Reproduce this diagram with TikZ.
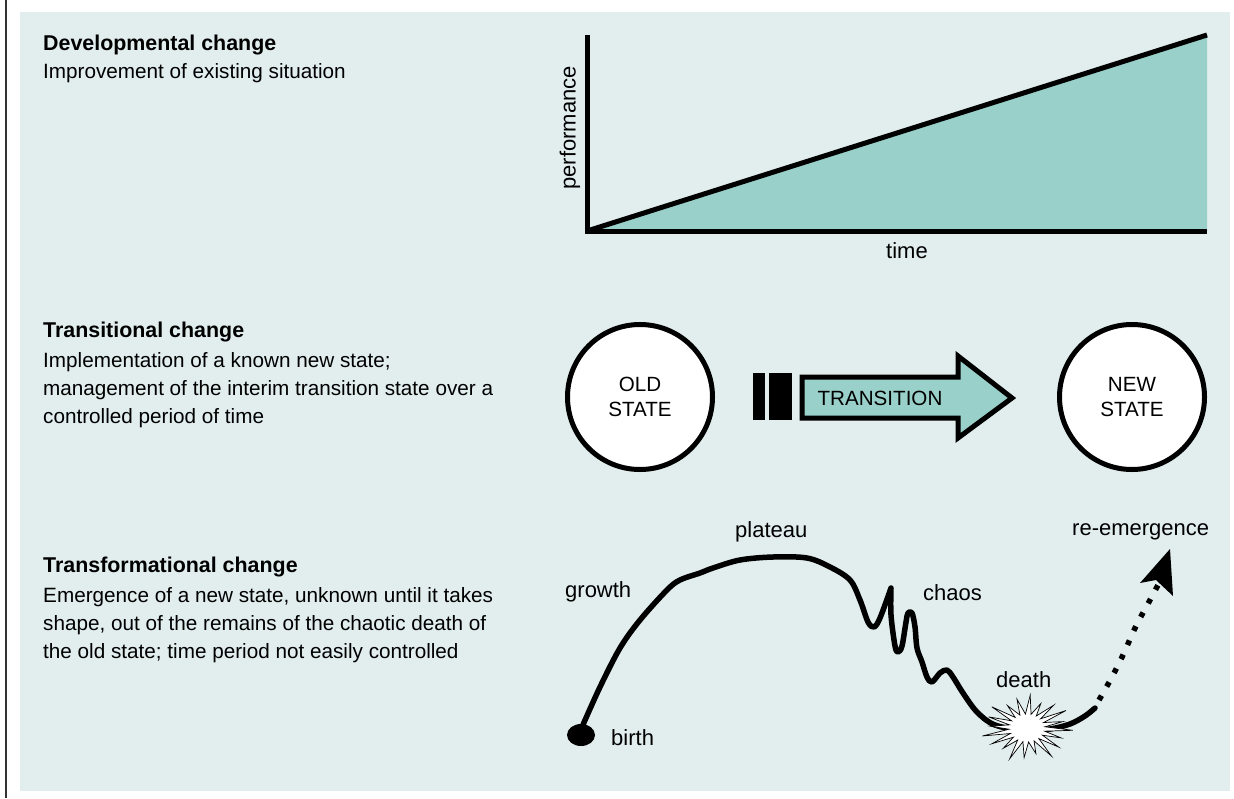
\documentclass[tikz,border=0pt]{standalone}
\usepackage{fontspec}
\setmainfont{Liberation Sans}
\definecolor{bgc}{HTML}{E1EEED}
\definecolor{tealfill}{HTML}{99D1CA}
\begin{document}
\begin{tikzpicture}[x=1pt,y=-1pt,
  titlefont/.style={font=\bfseries\fontsize{21.4}{26}\selectfont, anchor=base west, inner sep=0pt},
  bodyfont/.style={font=\fontsize{20.7}{26}\selectfont, anchor=base west, inner sep=0pt},
  lbl/.style={font=\fontsize{22}{26}\selectfont, anchor=base west, inner sep=0pt},
  axisline/.style={line width=5pt, line cap=butt, line join=miter},
  statecircle/.style={circle, draw=black, line width=5pt, fill=white, minimum size=145pt, inner sep=0pt, align=center, font=\fontsize{20.6}{24.5}\selectfont},
  arrowshape/.style={draw=black, fill=tealfill, line width=5pt, line join=miter},
  lifecurve/.style={line width=5.5pt, line cap=round, line join=round},
  dotted-path/.style={line width=5.5pt, line cap=butt, dash pattern=on 5pt off 10.5pt},
  starfill/.style={fill=white, draw=black, line width=0.7pt, line join=miter}
]
\useasboundingbox (0,0) rectangle (1234,798);
\fill[white] (0,0) rectangle (1234,798);
\draw[line width=1.5pt, black!80] (6,0) -- (6,798);
\fill[bgc] (20,12) rectangle (1230,791);

% ---------- left texts ----------
\node[titlefont] (devT) at (43,50) {Developmental change};
\node[bodyfont] (devB) at (43,78) {Improvement of existing situation};

\node[titlefont] (traT) at (43,337) {Transitional change};
\node[bodyfont] (traB1) at (43,367) {Implementation of a known new state;};
\node[bodyfont] (traB2) at (43,395) {management of the interim transition state over a};
\node[bodyfont] (traB3) at (43,423) {controlled period of time};

\node[titlefont] (tfT) at (43,572) {Transformational change};
\node[bodyfont] (tfB1) at (43,602) {Emergence of a new state, unknown until it takes};
\node[bodyfont] (tfB2) at (43,630) {shape, out of the remains of the chaotic death of};
\node[bodyfont] (tfB3) at (43,658) {the old state; time period not easily controlled};

% ---------- developmental graph ----------
\coordinate (origin) at (587,231);
\coordinate (ytop) at (587,35);
\coordinate (xend) at (1207,231);
\coordinate (lineend) at (1207,35);
\fill[tealfill] (origin) -- (lineend) -- (xend) -- cycle;
\draw[axisline] (ytop) -- (origin) -- (xend);
\draw[axisline] (origin) -- (lineend);
\node[font=\fontsize{22}{26}\selectfont, rotate=90, inner sep=0pt] (perf) at (570,128) {performance};
\node[lbl] (time) at (886,258) {time};

% ---------- transitional ----------
\node[statecircle] (old) at (640,397) {OLD\\STATE};
\node[statecircle] (new) at (1132,397) {NEW\\STATE};
\fill[black] (753,373) rectangle (765,420);
\fill[black] (769,373) rectangle (792,420);
\draw[arrowshape] (802,377) -- (958,377) -- (958,356) -- (1012,398) -- (958,438) -- (958,418) -- (802,418) -- cycle;
\node[font=\fontsize{20.6}{24}\selectfont, inner sep=0pt] (trans) at (880,398) {TRANSITION};

% ---------- transformational ----------
\coordinate (birthpt) at (581,735);
\fill[black] (birthpt) ellipse [x radius=14pt, y radius=11pt];
\draw[lifecurve]
  plot[smooth, tension=0.55] coordinates {(582,727) (600,687) (620,648) (640,620) (667,590) (680,580) (700,573) (713,568) (740,560) (773,557) (807,558) (830,567) (850,580) (860,600) (868,622) (874,627) (880,618) (891,588)}
  -- plot[smooth, tension=0.55] coordinates {(891,588) (891,615) (895,646) (898,652) (902,646) (906,622) (908,613) (912,613) (915,627) (917,648) (922,662) (927,677) (932,682) (940,673) (947,670) (953,677) (963,693) (977,712) (995,725) (1027,731) (1050,729) (1070,724) (1085,716) (1095,708)};
\draw[dotted-path] plot[smooth, tension=0.5] coordinates {(1099,700) (1112,677) (1123,655) (1136,626) (1150,600) (1158,585)};
\fill[black] (1170,549) -- (1140,583) -- (1156,580) -- (1173,596) -- cycle;
\coordinate (deathpt) at (1027,728);
\draw[starfill] plot[samples at={0,...,39}, variable=\k]
  ({1027+ifthenelse(mod(\k,2)==0,(1-0.1*mod(\k,3))*46,18)*cos(9*\k+4)},
   {728+ifthenelse(mod(\k,2)==0,(1-0.1*mod(\k,3))*33,14)*sin(9*\k+4)}) -- cycle;

\node[lbl] (plateau) at (735,537) {plateau};
\node[lbl] (growth) at (565,597) {growth};
\node[lbl] (birth) at (611,745) {birth};
\node[lbl] (chaos) at (923,600) {chaos};
\node[lbl] (death) at (996,687) {death};
\node[lbl] (reem) at (1072,535) {re-emergence};
\end{tikzpicture}
\end{document}
